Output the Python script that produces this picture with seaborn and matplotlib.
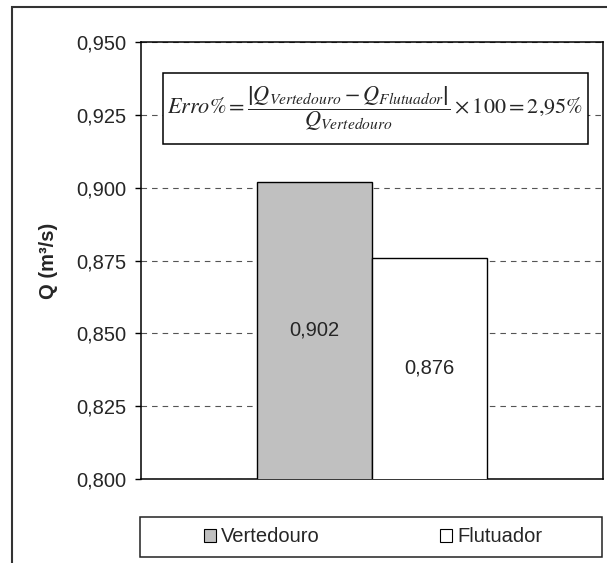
import matplotlib
matplotlib.use("Agg")
import matplotlib.pyplot as plt
from matplotlib.patches import Patch, Rectangle
from matplotlib.ticker import FuncFormatter, MultipleLocator
import seaborn as sns

# ============================================================
# DATA
# ============================================================

series_names = ["Vertedouro", "Flutuador"]
q_values = [0.902, 0.876]
bar_colors = ["#c0c0c0", "#ffffff"]
category = ["", ""]
y_label = "Q (m³/s)"
formula = (r"$Erro\% = \dfrac{\left|Q_{Vertedouro} - Q_{Flutuador}\right|}"
           r"{Q_{Vertedouro}} \times 100 = 2{,}95\%$")

# ============================================================
# STYLE
# ============================================================

sns.set_theme(style="white")
plt.rcParams["font.family"] = ["Liberation Sans", "DejaVu Sans"]
plt.rcParams["mathtext.fontset"] = "stix"

FS = 14.5

fig = plt.figure(figsize=(6.07, 5.63), dpi=100)
ax = fig.add_axes([0.2323, 0.1492, 0.7611, 0.7762])

# ============================================================
# BARS
# ============================================================

sns.barplot(
    x=category,
    y=q_values,
    hue=series_names,
    palette=bar_colors,
    width=0.5,
    dodge=True,
    edgecolor="black",
    linewidth=1.0,
    saturation=1,
    legend=False,
    ax=ax,
    zorder=3
)

ax.set_ylim(0.800, 0.950)
ax.set_xlim(-0.5, 0.5)

ax.yaxis.set_major_locator(MultipleLocator(0.025))
ax.yaxis.set_major_formatter(
    FuncFormatter(lambda v, _: f"{v:.3f}".replace(".", ","))
)

ax.grid(axis="y", color="#555555", linestyle=(0, (5, 4.5)), linewidth=0.8, zorder=0)
ax.set_axisbelow(True)

ax.tick_params(axis="y", which="major", direction="out", length=4.5,
               width=1, color="black", left=True, labelsize=FS, pad=6)
ax.tick_params(axis="x", bottom=False, labelbottom=False)

for s in ax.spines.values():
    s.set_color("black")
    s.set_linewidth(1.1)

ax.set_ylabel(y_label, fontsize=FS, fontweight="bold")
ax.yaxis.set_label_coords(-0.18, 0.5)
ax.set_xlabel("")

# value labels in the middle of the visible part of each bar
ymin = ax.get_ylim()[0]
for p, v in zip(ax.patches, q_values):
    ax.text(
        p.get_x() + p.get_width() / 2,
        (ymin + p.get_height()) / 2,
        f"{v:.3f}".replace(".", ","),
        ha="center", va="center", fontsize=FS, zorder=4
    )

# ============================================================
# FORMULA BOX
# ============================================================

ax.add_patch(Rectangle((0.0476, 0.767), 0.9199, 0.162, transform=ax.transAxes,
                       facecolor="white", edgecolor="black", linewidth=1.1, zorder=5))
ax.text(0.5076, 0.848, formula, transform=ax.transAxes, ha="center", va="center",
        fontsize=16, zorder=6)

# ============================================================
# LEGEND + FRAMES
# ============================================================

fig.patches.append(Rectangle((140 / 607, 1 - 557 / 563), 462 / 607, 40 / 563,
                             transform=fig.transFigure, fill=False,
                             edgecolor="#222222", linewidth=1.1))

handles = [Patch(facecolor=c, edgecolor="black", linewidth=0.8) for c in bar_colors]
fig.legend(
    handles, series_names,
    loc="center", bbox_to_anchor=(373 / 607, 1 - 537 / 563),
    ncol=2, frameon=False, fontsize=FS,
    handlelength=0.6, handleheight=0.6, handletextpad=0.25,
    columnspacing=6.0
)

fig.patches.append(Rectangle((12 / 607, -0.2), 1.2, 1.2 - 7 / 563,
                             transform=fig.transFigure, fill=False,
                             edgecolor="#333333", linewidth=1.5))

fig.savefig("out.png", dpi=100)
